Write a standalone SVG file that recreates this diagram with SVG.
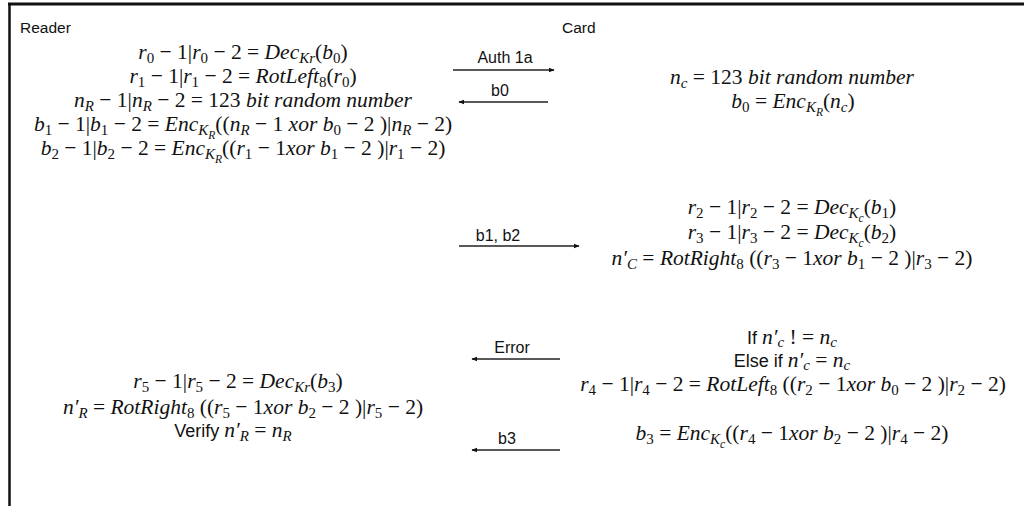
<svg xmlns="http://www.w3.org/2000/svg" width="1024" height="506" viewBox="0 0 1024 506">
<style>
.sans{font-family:"Liberation Sans",Arial,sans-serif;font-size:15.5px;fill:#111}
.m{font-family:"Liberation Serif","Times New Roman",serif;font-size:21.5px;fill:#111;text-anchor:middle}
.i{font-style:italic}
.s{font-size:15px}
.ss{font-size:11.5px}
.t{font-family:"Liberation Sans",Arial,sans-serif;font-size:18px}
.lbl{font-family:"Liberation Sans",Arial,sans-serif;font-size:16px;fill:#111;text-anchor:middle}
.ar{stroke:#222;stroke-width:1.4;fill:none;marker-end:url(#ah)}
</style>
<defs>
<marker id="ah" viewBox="0 0 10 10" refX="9" refY="5" markerWidth="6" markerHeight="6" markerUnits="userSpaceOnUse" orient="auto"><path d="M0,1 L10,5 L0,9 z" fill="#111"/></marker>
</defs>
<rect x="0" y="0" width="1024" height="506" fill="#fff"/>
<g id="frame">
<line x1="8" y1="4" x2="1024" y2="4" stroke="#111" stroke-width="3"/>
<line x1="9.5" y1="3" x2="9.5" y2="506" stroke="#111" stroke-width="2.5"/>
</g>
<g id="reader-title"><text class="sans" x="20" y="33">Reader</text></g>
<g id="card-title"><text class="sans" x="562" y="33">Card</text></g>
<g id="reader-step1">
<text class="m" x="243" y="59"><tspan class="i">r</tspan><tspan class="s" baseline-shift="-4">0</tspan> − 1|<tspan class="i">r</tspan><tspan class="s" baseline-shift="-4">0</tspan> − 2 = <tspan class="i">Dec</tspan><tspan class="s i" baseline-shift="-4">Kr</tspan>(<tspan class="i">b</tspan><tspan class="s" baseline-shift="-4">0</tspan>)</text>
<text class="m" x="243" y="83"><tspan class="i">r</tspan><tspan class="s" baseline-shift="-4">1</tspan> − 1|<tspan class="i">r</tspan><tspan class="s" baseline-shift="-4">1</tspan> − 2 = <tspan class="i">RotLeft</tspan><tspan class="s" baseline-shift="-4">8</tspan>(<tspan class="i">r</tspan><tspan class="s" baseline-shift="-4">0</tspan>)</text>
<text class="m" x="243" y="107"><tspan class="i">n</tspan><tspan class="s i" baseline-shift="-4">R</tspan> − 1|<tspan class="i">n</tspan><tspan class="s i" baseline-shift="-4">R</tspan> − 2 = 123 <tspan class="i">bit random number</tspan></text>
<text class="m" x="243" y="131"><tspan class="i">b</tspan><tspan class="s" baseline-shift="-4">1</tspan> − 1|<tspan class="i">b</tspan><tspan class="s" baseline-shift="-4">1</tspan> − 2 = <tspan class="i">Enc</tspan><tspan class="s i" baseline-shift="-4">K</tspan><tspan class="ss i" baseline-shift="-8">R</tspan>((<tspan class="i">n</tspan><tspan class="s i" baseline-shift="-4">R</tspan> − 1 <tspan class="i">xor b</tspan><tspan class="s" baseline-shift="-4">0</tspan> − 2 )|<tspan class="i">n</tspan><tspan class="s i" baseline-shift="-4">R</tspan> − 2)</text>
<text class="m" x="243" y="155"><tspan class="i">b</tspan><tspan class="s" baseline-shift="-4">2</tspan> − 1|<tspan class="i">b</tspan><tspan class="s" baseline-shift="-4">2</tspan> − 2 = <tspan class="i">Enc</tspan><tspan class="s i" baseline-shift="-4">K</tspan><tspan class="ss i" baseline-shift="-8">R</tspan>((<tspan class="i">r</tspan><tspan class="s" baseline-shift="-4">1</tspan> − 1<tspan class="i">xor b</tspan><tspan class="s" baseline-shift="-4">1</tspan> − 2 )|<tspan class="i">r</tspan><tspan class="s" baseline-shift="-4">1</tspan> − 2)</text>
</g>
<g id="card-step1">
<text class="m" x="792" y="84"><tspan class="i">n</tspan><tspan class="s i" baseline-shift="-4">c</tspan> = 123 <tspan class="i">bit random number</tspan></text>
<text class="m" x="793" y="108"><tspan class="i">b</tspan><tspan class="s" baseline-shift="-4">0</tspan> = <tspan class="i">Enc</tspan><tspan class="s i" baseline-shift="-4">K</tspan><tspan class="ss i" baseline-shift="-8">R</tspan>(<tspan class="i">n</tspan><tspan class="s i" baseline-shift="-4">c</tspan>)</text>
</g>
<g id="card-step2">
<text class="m" x="792" y="214"><tspan class="i">r</tspan><tspan class="s" baseline-shift="-4">2</tspan> − 1|<tspan class="i">r</tspan><tspan class="s" baseline-shift="-4">2</tspan> − 2 = <tspan class="i">Dec</tspan><tspan class="s i" baseline-shift="-4">K</tspan><tspan class="ss i" baseline-shift="-8">c</tspan>(<tspan class="i">b</tspan><tspan class="s" baseline-shift="-4">1</tspan>)</text>
<text class="m" x="792" y="239"><tspan class="i">r</tspan><tspan class="s" baseline-shift="-4">3</tspan> − 1|<tspan class="i">r</tspan><tspan class="s" baseline-shift="-4">3</tspan> − 2 = <tspan class="i">Dec</tspan><tspan class="s i" baseline-shift="-4">K</tspan><tspan class="ss i" baseline-shift="-8">c</tspan>(<tspan class="i">b</tspan><tspan class="s" baseline-shift="-4">2</tspan>)</text>
<text class="m" x="792" y="265"><tspan class="i">n′</tspan><tspan class="s i" baseline-shift="-4">C</tspan> = <tspan class="i">RotRight</tspan><tspan class="s" baseline-shift="-4">8</tspan> ((<tspan class="i">r</tspan><tspan class="s" baseline-shift="-4">3</tspan> − 1<tspan class="i">xor b</tspan><tspan class="s" baseline-shift="-4">1</tspan> − 2 )|<tspan class="i">r</tspan><tspan class="s" baseline-shift="-4">3</tspan> − 2)</text>
</g>
<g id="card-step3">
<text class="m" x="792" y="344"><tspan class="t">If </tspan><tspan class="i">n′</tspan><tspan class="s i" baseline-shift="-3">c</tspan> ! = <tspan class="i">n</tspan><tspan class="s i" baseline-shift="-3">c</tspan></text>
<text class="m" x="792" y="367"><tspan class="t">Else if </tspan><tspan class="i">n′</tspan><tspan class="s i" baseline-shift="-3">c</tspan> = <tspan class="i">n</tspan><tspan class="s i" baseline-shift="-3">c</tspan></text>
<text class="m" x="793" y="391"><tspan class="i">r</tspan><tspan class="s" baseline-shift="-4">4</tspan> − 1|<tspan class="i">r</tspan><tspan class="s" baseline-shift="-4">4</tspan> − 2 = <tspan class="i">RotLeft</tspan><tspan class="s" baseline-shift="-4">8</tspan> ((<tspan class="i">r</tspan><tspan class="s" baseline-shift="-4">2</tspan> − 1<tspan class="i">xor b</tspan><tspan class="s" baseline-shift="-4">0</tspan> − 2 )|<tspan class="i">r</tspan><tspan class="s" baseline-shift="-4">2</tspan> − 2)</text>
<text class="m" x="792" y="440"><tspan class="i">b</tspan><tspan class="s" baseline-shift="-4">3</tspan> = <tspan class="i">Enc</tspan><tspan class="s i" baseline-shift="-4">K</tspan><tspan class="ss i" baseline-shift="-8">c</tspan>((<tspan class="i">r</tspan><tspan class="s" baseline-shift="-4">4</tspan> − 1<tspan class="i">xor b</tspan><tspan class="s" baseline-shift="-4">2</tspan> − 2 )|<tspan class="i">r</tspan><tspan class="s" baseline-shift="-4">4</tspan> − 2)</text>
</g>
<g id="reader-step2">
<text class="m" x="238" y="388"><tspan class="i">r</tspan><tspan class="s" baseline-shift="-4">5</tspan> − 1|<tspan class="i">r</tspan><tspan class="s" baseline-shift="-4">5</tspan> − 2 = <tspan class="i">Dec</tspan><tspan class="s i" baseline-shift="-4">Kr</tspan>(<tspan class="i">b</tspan><tspan class="s" baseline-shift="-4">3</tspan>)</text>
<text class="m" x="243" y="414"><tspan class="i">n′</tspan><tspan class="s i" baseline-shift="-4">R</tspan> = <tspan class="i">RotRight</tspan><tspan class="s" baseline-shift="-4">8</tspan> ((<tspan class="i">r</tspan><tspan class="s" baseline-shift="-4">5</tspan> − 1<tspan class="i">xor b</tspan><tspan class="s" baseline-shift="-4">2</tspan> − 2 )|<tspan class="i">r</tspan><tspan class="s" baseline-shift="-4">5</tspan> − 2)</text>
<text class="m" x="233" y="437"><tspan class="t">Verify </tspan><tspan class="i">n′</tspan><tspan class="s i" baseline-shift="-4">R</tspan> = <tspan class="i">n</tspan><tspan class="s i" baseline-shift="-4">R</tspan></text>
</g>
<g id="connectors">
<line class="ar" x1="453" y1="70" x2="554" y2="70"/>
<text class="lbl" x="505" y="63">Auth 1a</text>
<line class="ar" x1="548" y1="102" x2="459" y2="102"/>
<text class="lbl" x="500" y="96">b0</text>
<line class="ar" x1="459" y1="246" x2="579" y2="246"/>
<text class="lbl" x="498" y="241">b1, b2</text>
<line class="ar" x1="560" y1="359" x2="472" y2="359"/>
<text class="lbl" x="512" y="353">Error</text>
<line class="ar" x1="560" y1="450" x2="472" y2="450"/>
<text class="lbl" x="507" y="444">b3</text>
</g>
</svg>
